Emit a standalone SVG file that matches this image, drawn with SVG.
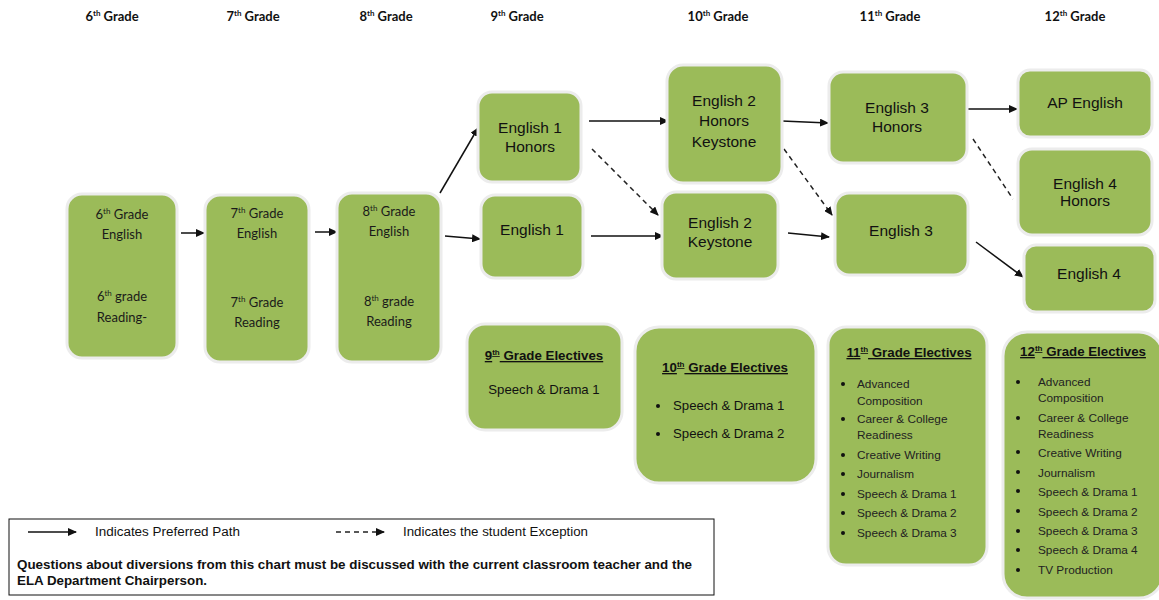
<svg xmlns="http://www.w3.org/2000/svg" width="1159" height="600" viewBox="0 0 1159 600">
<style>
.hdr{font-family:Lato,"Liberation Sans",sans-serif;font-weight:bold;font-size:13px;fill:#111;text-anchor:middle}
.gn{fill:#9BBB59;stroke:#ececec;stroke-width:3}
.gt{font-family:Lato,"Liberation Sans",sans-serif;font-size:13px;fill:#1a1a1a;text-anchor:middle}
.et{font-family:"Liberation Sans",Arial,sans-serif;font-size:15.5px;fill:#111;text-anchor:middle}
.tt{font-family:"Liberation Sans",Arial,sans-serif;font-size:13.3px;font-weight:bold;text-decoration:underline;fill:#111;text-anchor:middle}
.el{font-family:"Liberation Sans",Arial,sans-serif;font-size:13.2px;fill:#111}
.sm{font-family:"Liberation Sans",Arial,sans-serif;font-size:11.8px;fill:#222}
.lg{font-family:"Liberation Sans",Arial,sans-serif;font-size:12.5px;fill:#111}
.lgb{font-family:"Liberation Sans",Arial,sans-serif;font-size:12.5px;font-weight:bold;fill:#111}
.ln{stroke:#111;stroke-width:1.5;fill:none}
.dl{stroke:#222;stroke-width:1.5;fill:none;stroke-dasharray:5 4}
</style>
<defs>
<marker id="ah" markerWidth="9" markerHeight="8" refX="8" refY="4" orient="auto" markerUnits="userSpaceOnUse">
<path d="M0,0 L9,4 L0,8 Z" fill="#111"/>
</marker>
</defs>
<rect width="1159" height="600" fill="#fff"/>
<g id="headers">
<text class="hdr" x="112" y="21">6<tspan font-size="8" dy="-5">th</tspan><tspan dy="5"> Grade</tspan></text>
<text class="hdr" x="253" y="21">7<tspan font-size="8" dy="-5">th</tspan><tspan dy="5"> Grade</tspan></text>
<text class="hdr" x="386" y="21">8<tspan font-size="8" dy="-5">th</tspan><tspan dy="5"> Grade</tspan></text>
<text class="hdr" x="517" y="21">9<tspan font-size="8" dy="-5">th</tspan><tspan dy="5"> Grade</tspan></text>
<text class="hdr" x="718" y="21">10<tspan font-size="8" dy="-5">th</tspan><tspan dy="5"> Grade</tspan></text>
<text class="hdr" x="890" y="21">11<tspan font-size="8" dy="-5">th</tspan><tspan dy="5"> Grade</tspan></text>
<text class="hdr" x="1075" y="21">12<tspan font-size="8" dy="-5">th</tspan><tspan dy="5"> Grade</tspan></text>
</g>
<g id="connectors">
<line class="ln" x1="181" y1="233" x2="204" y2="233" marker-end="url(#ah)"/>
<line class="ln" x1="315" y1="232" x2="337" y2="232" marker-end="url(#ah)"/>
<line class="ln" x1="440" y1="193" x2="478" y2="128" marker-end="url(#ah)"/>
<line class="ln" x1="445" y1="236" x2="480" y2="239" marker-end="url(#ah)"/>
<line class="ln" x1="589" y1="121" x2="668" y2="121" marker-end="url(#ah)"/>
<line class="dl" x1="592" y1="149" x2="658" y2="215" marker-end="url(#ah)"/>
<line class="ln" x1="591" y1="236" x2="663" y2="236" marker-end="url(#ah)"/>
<line class="ln" x1="782" y1="121" x2="828" y2="123" marker-end="url(#ah)"/>
<line class="dl" x1="784" y1="149" x2="832" y2="215" marker-end="url(#ah)"/>
<line class="ln" x1="788" y1="233" x2="829" y2="237" marker-end="url(#ah)"/>
<line class="ln" x1="967" y1="109" x2="1017" y2="109" marker-end="url(#ah)"/>
<line class="dl" x1="973" y1="139" x2="1013" y2="199"/>
<line class="ln" x1="976" y1="242" x2="1023" y2="277" marker-end="url(#ah)"/>
</g>
<g id="n6">
<rect class="gn" x="67" y="194" width="110" height="164" rx="15"/>
<text class="gt" x="122" y="219">6<tspan font-size="8" dy="-5">th</tspan><tspan dy="5"> Grade</tspan></text>
<text class="gt" x="122" y="239">English</text>
<text class="gt" x="122" y="301">6<tspan font-size="8" dy="-5">th</tspan><tspan dy="5"> grade</tspan></text>
<text class="gt" x="122" y="322">Reading-</text>
</g>
<g id="n7">
<rect class="gn" x="205" y="195" width="104" height="167" rx="15"/>
<text class="gt" x="257" y="218">7<tspan font-size="8" dy="-5">th</tspan><tspan dy="5"> Grade</tspan></text>
<text class="gt" x="257" y="238">English</text>
<text class="gt" x="257" y="307">7<tspan font-size="8" dy="-5">th</tspan><tspan dy="5"> Grade</tspan></text>
<text class="gt" x="257" y="327">Reading</text>
</g>
<g id="n8">
<rect class="gn" x="337" y="193" width="104" height="169" rx="15"/>
<text class="gt" x="389" y="216">8<tspan font-size="8" dy="-5">th</tspan><tspan dy="5"> Grade</tspan></text>
<text class="gt" x="389" y="236">English</text>
<text class="gt" x="389" y="306">8<tspan font-size="8" dy="-5">th</tspan><tspan dy="5"> grade</tspan></text>
<text class="gt" x="389" y="326">Reading</text>
</g>
<g id="e1h">
<rect class="gn" x="478" y="92" width="103" height="90" rx="14"/>
<text class="et" x="530" y="133">English 1</text>
<text class="et" x="530" y="152">Honors</text>
</g>
<g id="e1">
<rect class="gn" x="481" y="195" width="102" height="83" rx="14"/>
<text class="et" x="532" y="235">English 1</text>
</g>
<g id="e2hk">
<rect class="gn" x="667" y="65" width="115" height="118" rx="16"/>
<text class="et" x="724" y="106">English 2</text>
<text class="et" x="724" y="126">Honors</text>
<text class="et" x="724" y="147">Keystone</text>
</g>
<g id="e2k">
<rect class="gn" x="662" y="192" width="116" height="87" rx="14"/>
<text class="et" x="720" y="228">English 2</text>
<text class="et" x="720" y="247">Keystone</text>
</g>
<g id="e3h">
<rect class="gn" x="829" y="72" width="138" height="91" rx="14"/>
<text class="et" x="897" y="113">English 3</text>
<text class="et" x="897" y="132">Honors</text>
</g>
<g id="e3">
<rect class="gn" x="835" y="193" width="133" height="82" rx="14"/>
<text class="et" x="901" y="236">English 3</text>
</g>
<g id="ap">
<rect class="gn" x="1018" y="70" width="134" height="67" rx="12"/>
<text class="et" x="1085" y="108">AP English</text>
</g>
<g id="e4h">
<rect class="gn" x="1018" y="149" width="134" height="86" rx="14"/>
<text class="et" x="1085" y="189">English 4</text>
<text class="et" x="1085" y="206">Honors</text>
</g>
<g id="e4">
<rect class="gn" x="1024" y="245" width="131" height="67" rx="12"/>
<text class="et" x="1089" y="279">English 4</text>
</g>
<g id="el9">
<rect class="gn" x="467" y="324" width="155" height="106" rx="18"/>
<text class="tt" x="544" y="360">9<tspan font-size="8" dy="-5">th</tspan><tspan dy="5"> Grade Electives</tspan></text>
<text class="el" x="544" y="394" text-anchor="middle">Speech &amp; Drama 1</text>
</g>
<g id="el10">
<rect class="gn" x="635" y="327" width="181" height="156" rx="24"/>
<text class="tt" x="725" y="372">10<tspan font-size="8" dy="-5">th</tspan><tspan dy="5"> Grade Electives</tspan></text>
<circle cx="658" cy="406" r="2" fill="#111"/>
<text class="el" x="673" y="410">Speech &amp; Drama 1</text>
<circle cx="658" cy="434" r="2" fill="#111"/>
<text class="el" x="673" y="438">Speech &amp; Drama 2</text>
</g>
<g id="el11">
<rect class="gn" x="828" y="327" width="159" height="238" rx="18"/>
<text class="tt" x="909" y="357">11<tspan font-size="8" dy="-5">th</tspan><tspan dy="5"> Grade Electives</tspan></text>
<g fill="#111">
<circle cx="843" cy="384" r="2"/><circle cx="843" cy="419" r="2"/><circle cx="843" cy="455" r="2"/><circle cx="843" cy="474" r="2"/><circle cx="843" cy="494" r="2"/><circle cx="843" cy="513" r="2"/><circle cx="843" cy="533" r="2"/>
</g>
<text class="sm" x="857" y="388">Advanced</text>
<text class="sm" x="857" y="405">Composition</text>
<text class="sm" x="857" y="423">Career &amp; College</text>
<text class="sm" x="857" y="439">Readiness</text>
<text class="sm" x="857" y="459">Creative Writing</text>
<text class="sm" x="857" y="478">Journalism</text>
<text class="sm" x="857" y="498">Speech &amp; Drama 1</text>
<text class="sm" x="857" y="517">Speech &amp; Drama 2</text>
<text class="sm" x="857" y="537">Speech &amp; Drama 3</text>
</g>
<g id="el12">
<rect class="gn" x="1003" y="332" width="160" height="266" rx="24"/>
<text class="tt" x="1083" y="356">12<tspan font-size="8" dy="-5">th</tspan><tspan dy="5"> Grade Electives</tspan></text>
<g fill="#111">
<circle cx="1018" cy="382" r="2"/><circle cx="1018" cy="418" r="2"/><circle cx="1018" cy="452" r="2"/><circle cx="1018" cy="472" r="2"/><circle cx="1018" cy="491" r="2"/><circle cx="1018" cy="511" r="2"/><circle cx="1018" cy="531" r="2"/><circle cx="1018" cy="550" r="2"/><circle cx="1018" cy="570" r="2"/>
</g>
<text class="sm" x="1038" y="386">Advanced</text>
<text class="sm" x="1038" y="402">Composition</text>
<text class="sm" x="1038" y="422">Career &amp; College</text>
<text class="sm" x="1038" y="438">Readiness</text>
<text class="sm" x="1038" y="457">Creative Writing</text>
<text class="sm" x="1038" y="477">Journalism</text>
<text class="sm" x="1038" y="496">Speech &amp; Drama 1</text>
<text class="sm" x="1038" y="516">Speech &amp; Drama 2</text>
<text class="sm" x="1038" y="535">Speech &amp; Drama 3</text>
<text class="sm" x="1038" y="554">Speech &amp; Drama 4</text>
<text class="sm" x="1038" y="574">TV Production</text>
</g>
<g id="legend">
<rect x="9" y="519" width="705" height="76" fill="none" stroke="#111" stroke-width="1"/>
<line class="ln" x1="28" y1="532" x2="76" y2="532" marker-end="url(#ah)"/>
<text class="lg" x="95" y="536" textLength="145" lengthAdjust="spacingAndGlyphs">Indicates Preferred Path</text>
<line class="dl" x1="336" y1="532" x2="384" y2="532" stroke-dasharray="4 3" marker-end="url(#ah)"/>
<text class="lg" x="403" y="536" textLength="185" lengthAdjust="spacingAndGlyphs">Indicates the student Exception</text>
<text class="lgb" x="17" y="569" textLength="675" lengthAdjust="spacingAndGlyphs">Questions about diversions from this chart must be discussed with the current classroom teacher and the</text>
<text class="lgb" x="17" y="585" textLength="190" lengthAdjust="spacingAndGlyphs">ELA Department Chairperson.</text>
</g>
</svg>
